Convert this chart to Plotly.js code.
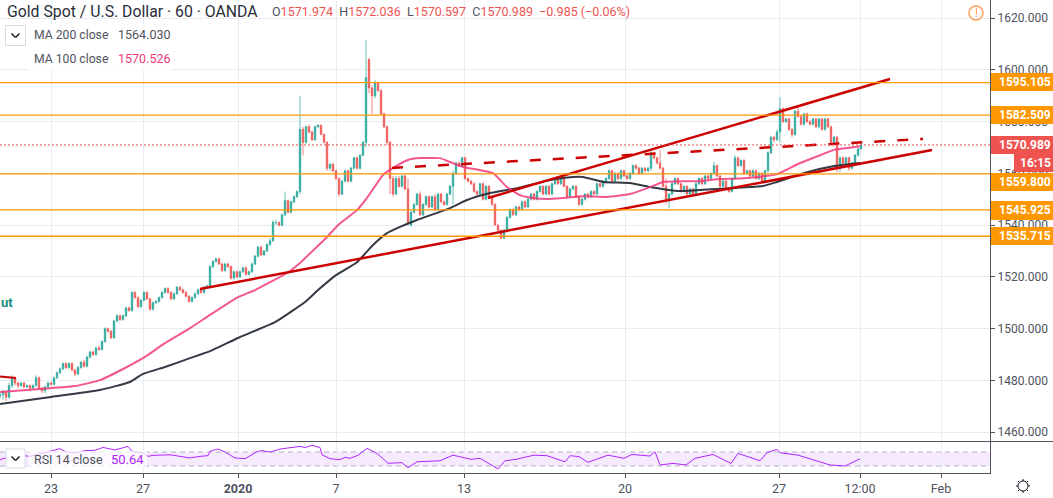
<!DOCTYPE html>
<html><head><meta charset="utf-8">
<script src="https://cdn.plot.ly/plotly-3.0.1.min.js"></script>
<style>html,body{margin:0;padding:0;background:#fff;overflow:hidden}#c{width:1053px;height:498px}</style></head>
<body><div id="c"></div>
<script>
const candleStart = 0, candleStep = 3;
const open = [
1474,1474.5,1475.5,1473.5,1478,1481,1479,1478,1479,1477.5,
1478,1477,1478,1481,1477,1476,1477.5,1479,1478.5,1481,
1483,1484.5,1486.5,1485,1486.5,1484,1482.5,1485,1487,1485.5,
1489,1491,1490,1492.5,1492,1495,1500,1499,1496.5,1503,
1505,1503.5,1505,1508,1507,1514,1512,1508.5,1511,1514,
1511.5,1507.5,1510,1510.5,1512,1514,1515.5,1514,1511.5,1513.5,
1516,1515,1514,1512.5,1510.5,1512,1513.5,1515,1514,1516,
1516.5,1524,1526,1527,1525,1522.5,1525,1524,1519.5,1522,
1520,1522,1523.5,1521,1522,1525,1528,1531.5,1528.5,1530,
1532.5,1534,1541,1541,1540,1544,1549.5,1545,1549,1551,
1553,1577,1572,1578,1576,1573,1578,1578.5,1575,1572,
1562,1563.5,1561,1558,1552,1557,1561,1557,1562,1566,
1562,1567,1572,1604,1593,1590,1595,1592,1583,1578,
1572,1558,1552,1558,1555,1559,1554,1540,1545,1548,
1552,1544,1548,1551,1547,1551,1546,1552,1549,1548,
1552,1555,1560,1564,1563,1566,1558,1557,1556,1553,
1552,1556,1550,1555,1551,1548,1540,1538,1535,1538,
1543,1546,1544,1547,1546,1549,1547,1550,1552,1550,
1553,1555,1552,1555,1552,1556,1558,1556,1558,1555,
1551,1554,1555,1551,1548,1550,1552,1551,1553,1552,
1556,1555,1557,1558,1561,1557,1560,1558,1561,1559,
1558,1560,1563,1562,1560,1562,1561,1562,1568,1566,
1564,1562,1555,1550,1552,1556,1558,1556,1553,1555,
1552,1554,1552,1556,1558,1556,1559,1558,1560,1563,
1559,1555,1557,1554,1553,1558,1566,1563,1565,1560,
1561,1559,1561,1558,1560,1557,1561,1568,1574,1573,
1576,1585,1580,1581,1577,1575,1584,1582,1579,1583,
1580,1579,1581,1578,1581,1577,1581,1578,1572,1574,
1562,1566,1564,1566,1562,1564,1567,1569.5];
const high = [
1475.5,1476.5,1476,1479,1482,1481.5,1479.5,1479.5,1479.5,1478.5,
1478.5,1478.5,1482,1481.5,1477.5,1478,1479.5,1479.5,1481.5,1483.5,
1485,1487,1487,1487,1487,1484.5,1485.5,1487.5,1488,1489.5,
1491.5,1491.5,1493,1493.5,1495.5,1500.5,1500.5,1499.5,1503.5,1505.5,
1505.5,1505.5,1508.5,1508.5,1514.5,1514.5,1512.5,1511.5,1514.5,1514.5,
1512,1510.5,1511,1512.5,1514.5,1516,1516,1514.5,1514,1516.5,
1516.5,1515.5,1514.5,1513,1512.5,1514,1515.5,1515.5,1516.5,1517,
1524.5,1526.5,1527.5,1527.5,1525.5,1525.5,1525.5,1524.5,1522.5,1522.5,
1522.5,1524,1524,1522.5,1525.5,1528.5,1532,1532,1530.5,1533,
1535,1542,1542,1541.5,1544.5,1553,1550,1549.5,1551.5,1553.5,
1590,1578,1578.5,1579,1576.5,1578.5,1579,1579,1575.5,1572.5,
1564,1564,1561.5,1558.5,1557.5,1561.5,1561.5,1562.5,1566.5,1566.5,
1567.5,1572.5,1611.5,1604.5,1594,1596,1595.5,1592.5,1583.5,1578.5,
1572.5,1559,1559,1559,1559.5,1560,1558,1545.5,1548.5,1552.5,
1553,1548.5,1551.5,1551.5,1551.5,1552,1552.5,1552.5,1549.5,1552.5,
1555.5,1561,1564.5,1564.5,1566.5,1566.5,1558.5,1557.5,1556.5,1553.5,
1556.5,1556.5,1555.5,1555.5,1551.5,1548.5,1540.5,1538.5,1538.5,1543.5,
1546.5,1546.5,1547.5,1547.5,1549.5,1549.5,1550.5,1552.5,1552.5,1553.5,
1555.5,1555.5,1555.5,1555.5,1556.5,1558.5,1558.5,1558.5,1558.5,1555.5,
1554.5,1555.5,1555.5,1551.5,1550.5,1552.5,1552.5,1553.5,1553.5,1556.5,
1556.5,1557.5,1558.5,1561.5,1561.5,1560.5,1560.5,1561.5,1561.5,1559.5,
1560.5,1563.5,1563.5,1562.5,1562.5,1562.5,1562.5,1568.5,1568.5,1566.5,
1569,1562.5,1558,1552.5,1556.5,1558.5,1558.5,1556.5,1555.5,1555.5,
1554.5,1554.5,1556.5,1558.5,1558.5,1559.5,1559.5,1560.5,1564.5,1563.5,
1559.5,1557.5,1557.5,1554.5,1558.5,1567,1566.5,1565.5,1565.5,1561.5,
1561.5,1561.5,1561.5,1560.5,1560.5,1561.5,1568.5,1574.5,1574.5,1577,
1589.5,1585.5,1581.5,1581.5,1577.5,1584.5,1586,1582.5,1583.5,1583.5,
1580.5,1581.5,1581.5,1581.5,1581.5,1581.5,1581.5,1578.5,1574.5,1574.5,
1566.5,1566.5,1566.5,1566.5,1564.5,1567.5,1570,1572];
const low = [
1473,1472.5,1472,1473,1477,1478,1477,1477.5,1477,1477,
1476,1476.5,1477.5,1476.5,1475,1475,1477,1478,1478,1480.5,
1482.5,1484,1484.5,1484.5,1483.5,1481.5,1482,1484.5,1485,1485,
1488.5,1489.5,1489.5,1491.5,1491.5,1494.5,1498.5,1496,1496,1502.5,
1503,1503,1504.5,1506.5,1506.5,1511.5,1508,1508,1510.5,1511,
1507,1507,1509.5,1510,1511.5,1513.5,1513.5,1511,1511,1513,
1514.5,1513.5,1512,1510,1510,1511.5,1513,1513.5,1513.5,1515.5,
1516,1523.5,1525.5,1524.5,1522,1522,1523.5,1519,1519,1519.5,
1519.5,1521.5,1520.5,1520.5,1521.5,1524.5,1527.5,1528,1528,1529.5,
1532,1533.5,1540,1539.5,1539.5,1543.5,1544.5,1544.5,1548.5,1550.5,
1552,1567,1571.5,1575.5,1572.5,1572.5,1577.5,1575,1571.5,1561,
1561,1560.5,1557.5,1551,1551.5,1556.5,1556.5,1556.5,1561.5,1561.5,
1561.5,1566.5,1570,1591,1583,1589,1591.5,1582.5,1577.5,1571,
1552,1551,1551.5,1554.5,1554.5,1553.5,1540,1539.5,1544.5,1547.5,
1543.5,1543.5,1547.5,1546.5,1546.5,1545.5,1545.5,1548.5,1547.5,1547.5,
1551.5,1548,1559.5,1562.5,1562.5,1557.5,1556.5,1555.5,1552.5,1551.5,
1551.5,1549.5,1549.5,1550.5,1547.5,1540,1537,1534.5,1534.5,1537.5,
1542.5,1543.5,1543.5,1545.5,1545.5,1546.5,1546.5,1549.5,1549.5,1549.5,
1552.5,1551.5,1551.5,1551.5,1551.5,1555.5,1555.5,1555.5,1554.5,1550.5,
1550.5,1553.5,1550.5,1547.5,1547.5,1549.5,1550.5,1550.5,1551.5,1551.5,
1554.5,1554.5,1556.5,1557.5,1556.5,1556.5,1557.5,1557.5,1558.5,1557.5,
1557.5,1559.5,1561.5,1559.5,1559.5,1560.5,1560.5,1561,1565.5,1563.5,
1561.5,1554.5,1548,1546.5,1551.5,1555.5,1555.5,1552.5,1552.5,1551.5,
1551.5,1551.5,1551.5,1555.5,1555.5,1555.5,1557.5,1557.5,1559.5,1558.5,
1554.5,1554.5,1553.5,1552.5,1552.5,1557.5,1562.5,1562.5,1559.5,1559.5,
1558.5,1558.5,1557.5,1557.5,1556.5,1556.5,1560.5,1567.5,1572,1572.5,
1572,1579.5,1579.5,1576.5,1574,1574.5,1581.5,1578.5,1578.5,1579.5,
1578.5,1578.5,1577.5,1577.5,1576.5,1576.5,1577.5,1571.5,1571.5,1560.5,
1560.5,1563.5,1563.5,1561,1561.5,1563.5,1566.5,1569];
const close = [
1474.5,1475.5,1473.5,1478,1481,1479,1478,1479,1477.5,1478,
1477,1478,1481,1477,1476,1477.5,1479,1478.5,1481,1483,
1484.5,1486.5,1485,1486.5,1484,1482.5,1485,1487,1485.5,1489,
1491,1490,1492.5,1492,1495,1500,1499,1496.5,1503,1505,
1503.5,1505,1508,1507,1514,1512,1508.5,1511,1514,1511.5,
1507.5,1510,1510.5,1512,1514,1515.5,1514,1511.5,1513.5,1516,
1515,1514,1512.5,1510.5,1512,1513.5,1515,1514,1516,1516.5,
1524,1526,1527,1525,1522.5,1525,1524,1519.5,1522,1520,
1522,1523.5,1521,1522,1525,1528,1531.5,1528.5,1530,1532.5,
1534,1541,1541,1540,1544,1549.5,1545,1549,1551,1553,
1577,1572,1578,1576,1573,1578,1578.5,1575,1572,1562,
1563.5,1561,1558,1552,1557,1561,1557,1562,1566,1562,
1567,1572,1597,1593,1590,1595,1592,1583,1578,1572,
1558,1552,1558,1555,1559,1554,1541,1545,1548,1552,
1544,1548,1551,1547,1551,1546,1552,1549,1548,1552,
1555,1560,1564,1563,1566,1558,1557,1556,1553,1552,
1556,1550,1555,1551,1548,1540,1538,1535,1538,1543,
1546,1544,1547,1546,1549,1547,1550,1552,1550,1553,
1555,1552,1555,1552,1556,1558,1556,1558,1555,1551,
1554,1555,1551,1548,1550,1552,1551,1553,1552,1556,
1555,1557,1558,1561,1557,1560,1558,1561,1559,1558,
1560,1563,1562,1560,1562,1561,1562,1568,1566,1564,
1562,1555,1550,1552,1556,1558,1556,1553,1555,1552,
1554,1552,1556,1558,1556,1559,1558,1560,1563,1559,
1555,1557,1554,1553,1558,1566,1563,1565,1560,1561,
1559,1561,1558,1560,1557,1561,1568,1574,1573,1576,
1585,1580,1581,1577,1575,1584,1582,1579,1583,1580,
1579,1581,1578,1581,1577,1581,1578,1572,1574,1562,
1566,1564,1566,1562,1564,1567,1569.5,1571];

const ma100X = [0,50,75,100,125,143,165,190,210,238,255,287,300,327,338,357,367,383,393,408,420,440,450,463,493,507,520,533,547,563,583,607,630,650,663,683,700,720,740,760,777,800,820,833,860];
const ma100V = [1475.5,1477,1477.8,1480.1,1484.8,1488.6,1494.4,1500.2,1505.3,1512.2,1514.9,1521.5,1525.4,1535.4,1540,1545.8,1550.5,1559.4,1562.1,1565.2,1565.9,1565.9,1564.4,1562.5,1560.1,1554.7,1551.6,1550.5,1550.1,1550.5,1551.2,1550.9,1552,1554.7,1556.7,1557,1557,1557.8,1558,1558.7,1559.7,1564,1567,1569,1570.5];
const ma200X = [0,51,100,130,143,165,190,210,238,275,305,318,336,357,373,387,400,417,450,467,490,517,550,573,583,603,630,650,677,700,763,777,807,833,860];
const ma200V = [1470.9,1473.6,1476.3,1479.4,1482.5,1485.2,1488.6,1491.3,1496.4,1502.5,1510.3,1514.9,1520.7,1525.7,1532.3,1536.9,1539.3,1542,1546.6,1549.7,1552.4,1554.3,1557.4,1558.6,1558.6,1556.7,1556.3,1554.7,1553.2,1553.6,1555.1,1556.7,1560.5,1562.8,1564];

const rsiX = [0,5,15,30,50,60,65,75,85,95,103,115,128,132,143,148,153,160,170,180,190,200,208,210,218,225,235,245,258,262,270,280,290,300,305,312,320,322,330,340,345,350,358,367,377,388,402,408,417,440,453,471,480,498,505,516,534,547,565,570,579,588,608,624,632,650,655,660,673,686,695,713,731,738,760,767,777,780,798,830,845,860];
const rsiV = [48,53,62,57.6,72,79.5,72,67,74,75,83,76,86,72,67,57.6,60.5,60.5,62,57.6,53,57.6,59.5,72,78.6,70,53,51,72,74,70,78.6,83,86,83,89,83,62,51,48,55,52,60.5,80.5,66,38,39.5,25,42,45,61,49,52,21.5,45,49,61,59.5,42,59.5,57,40.5,61,52,63,58.5,71,33,37.5,33,52,63,37.5,66,45,68,77.5,68,61,33,30,50.64];

const levels = [1595.105,1582.509,1559.8,1545.925,1535.715];
const levelX = [0,990];
const lastPrice = 1570.989;
const supportX = [200,932], supportV = [1515.3,1569];
const upperX = [488,890], upperV = [1550.5,1596.5];
const dashX = [392,923], dashV = [1562.1,1573.3];
const oldX = [0,16], oldV = [1481.5,1480.9];

const yTicks = [1460,1480,1500,1520,1540,1560,1580,1600,1620];
const xTickVals = [51,143,238,336,464,625,779,860,941];
const xTickText = ['23','27','<b>2020</b>','7','13','20','27','12:00','Feb'];

const PW = 990, PH = 473;
const GRAY = '#50535e', RED = '#cc0000', ORANGE = '#ff9800', FONT = 'Roboto, sans-serif';
const px = x => x / PW, py = y => 1 - y / PH;

const candleX = close.map((_, i) => candleStart + i * candleStep);
const traces = [
  {type:'candlestick', x:candleX, open, high, low, close, xaxis:'x', yaxis:'y', whiskerwidth:0,
   increasing:{line:{color:'#26a69a',width:0.7},fillcolor:'#26a69a'},
   decreasing:{line:{color:'#ef5350',width:0.7},fillcolor:'#ef5350'}, hoverinfo:'skip'},
  {type:'scatter', mode:'lines', x:ma200X, y:ma200V, line:{color:'#2a2e39',width:2,shape:'spline',smoothing:0.4}, opacity:0.95},
  {type:'scatter', mode:'lines', x:ma100X, y:ma100V, line:{color:'#f23a7b',width:2,shape:'spline',smoothing:0.4}, opacity:0.85},
  {type:'scatter', mode:'lines', x:supportX, y:supportV, line:{color:RED,width:2.5}},
  {type:'scatter', mode:'lines', x:upperX, y:upperV, line:{color:RED,width:2.5}},
  {type:'scatter', mode:'lines', x:dashX, y:dashV, line:{color:RED,width:2.5,dash:'11px,12px'}},
  {type:'scatter', mode:'lines', x:oldX, y:oldV, line:{color:RED,width:2}},
  {type:'scatter', mode:'lines', x:levelX, y:[lastPrice,lastPrice], line:{color:'#ef5350',width:1,dash:'2px,2px'}},
  ...levels.map(l => ({type:'scatter', mode:'lines', x:levelX, y:[l,l], line:{color:ORANGE,width:1.3}})),
  {type:'scatter', mode:'lines', x:rsiX, y:rsiV, xaxis:'x', yaxis:'y2', line:{color:'#b026ff',width:1}},
];

const ann = (text, x, y, o={}) => Object.assign({
  text, xref:'paper', yref:'paper', x:px(x), y:py(y), xanchor:'left', yanchor:'middle',
  showarrow:false, align:'left', borderpad:0, font:{family:FONT,size:12.2,color:GRAY}
}, o);

const sp = (c,t) => `<span style="color:${c}">${t}</span>`;
const R = '#ef5350';
const annotations = [
  ann('Gold Spot / U.S. Dollar · 60 · OANDA', 6, 11, {font:{family:FONT,size:15.8,color:'#2a2e39'}}),
  ann(`O${sp(R,'1571.974')}  H${sp(R,'1572.036')}  L${sp(R,'1570.597')}  C${sp(R,'1570.989')}  ${sp(R,'−0.985 (−0.06%)')}`, 271, 12, {font:{family:FONT,size:12.5,color:GRAY}}),
  ann('MA 200 close', 33, 35),
  ann('1564.030', 117, 35, {font:{family:FONT,size:12.5,color:GRAY}}),
  ann('MA 100 close', 33, 59),
  ann(sp('#f23a7b','1570.526'), 117, 59, {font:{family:FONT,size:12.5,color:GRAY}}),
  ann('<b>ut</b>', 0, 302, {font:{family:FONT,size:13,color:'#138a7a'}}),
  ann('RSI 14 close', 33, 459, {font:{family:FONT,size:12.5,color:GRAY}}),
  ann(sp('#b026ff','50.64'), 110, 459, {font:{family:FONT,size:13,color:'#b026ff'}}),
  ann('!', 976, 13, {xanchor:'center', font:{family:FONT,size:12,color:'#ff9e5c'}}),
  ...[[82,'1595.105'],[115,'1582.509'],[182,'1559.800'],[210,'1545.925'],[236,'1535.715'],[145,'1570.989']].map(([y,t]) =>
    ann('<b>'+t+'</b>', 998, y, {font:{family:FONT,size:12,color:'#fff'}})),
  ann('<b>16:15</b>', 1019, 163, {font:{family:FONT,size:12,color:'#fff'}}),
];

const box = (x0,y0,x1,y1,fill) => ({type:'rect',xref:'paper',yref:'paper',x0:px(x0),x1:px(x1),y0:py(y0),y1:py(y1),fillcolor:fill,line:{width:0},layer:'above'});
const outline = (x0,y0,x1,y1,color) => ({type:'rect',xref:'paper',yref:'paper',x0:px(x0),x1:px(x1),y0:py(y0),y1:py(y1),fillcolor:'#fff',line:{width:1,color},layer:'above'});
const seg = (x0,y0,x1,y1,color,w=1) => ({type:'line',xref:'paper',yref:'paper',x0:px(x0),x1:px(x1),y0:py(y0),y1:py(y1),line:{width:w,color},layer:'above'});
const chevron = (cx,cy) => [seg(cx-4,cy-2,cx,cy+2,'#131722',1.4), seg(cx,cy+2,cx+4,cy-2,'#131722',1.4)];
const circle = (cx,cy,r,color,w) => ({type:'circle',xref:'paper',yref:'paper',x0:px(cx-r),x1:px(cx+r),y0:py(cy-r),y1:py(cy+r),line:{width:w,color},layer:'above'});

const shapes = [
  {type:'rect',xref:'paper',yref:'y2',x0:0,x1:1,y0:30,y1:70,fillcolor:'rgba(170,60,255,0.11)',line:{width:0},layer:'below'},
  {type:'line',xref:'paper',yref:'y2',x0:0,x1:1,y0:70,y1:70,line:{width:1,color:'#b9b0c2',dash:'5px,4px'},layer:'below'},
  {type:'line',xref:'paper',yref:'y2',x0:0,x1:1,y0:30,y1:30,line:{width:1,color:'#b9b0c2',dash:'5px,4px'},layer:'below'},
  box(28,24,172,70,'rgba(255,255,255,0.82)'),
  box(28,451,147,467,'rgba(255,255,255,0.72)'),
  seg(0,441.5,1053,441.5,GRAY,1.2),
  box(991,73,1053,91,ORANGE), box(991,106,1053,124,ORANGE),
  box(991,136,1053,154,'#ef5350'), box(1014,154,1053,172,'#ef5350'),
  box(991,173,1053,191,ORANGE), box(991,201,1053,220,ORANGE), box(991,227,1053,245,ORANGE),
  outline(5.5,25.5,25.5,45.5,'#d6dce5'), ...chevron(15.5,35.5),
  outline(6,449,25,468,'#d6dce5'), ...chevron(15.5,458.5),
  circle(976,13,7,'#ff9e5c',1.5),
  circle(1023,486,5,'#131722',1),
  seg(1023,479,1023,481,'#131722'), seg(1023,491,1023,493,'#131722'),
  seg(1016,486,1018,486,'#131722'), seg(1028,486,1030,486,'#131722'),
  seg(1018,481,1019.5,482.5,'#131722'), seg(1028,481,1026.5,482.5,'#131722'),
  seg(1018,491,1019.5,489.5,'#131722'), seg(1028,491,1026.5,489.5,'#131722'),
];

const layout = {
  width:1053, height:498, margin:{l:0,r:63,t:0,b:25,pad:0},
  paper_bgcolor:'#fff', plot_bgcolor:'#fff', showlegend:false, hovermode:false,
  xaxis:{domain:[0,1],range:[0,PW],anchor:'y2',tickmode:'array',tickvals:xTickVals,ticktext:xTickText,
    showgrid:true,gridcolor:'#e6edf3',gridwidth:1,zeroline:false,showline:true,linecolor:GRAY,linewidth:1.2,
    ticks:'outside',ticklen:4,tickcolor:GRAY,tickfont:{family:FONT,size:12.5,color:GRAY},
    rangeslider:{visible:false},fixedrange:true},
  yaxis:{domain:[0.0677,1],range:[1456.6,1627],side:'right',anchor:'x',tickmode:'array',tickvals:yTicks,
    ticktext:yTicks.map(v=>v.toFixed(3)),showgrid:true,gridcolor:'#e6edf3',gridwidth:1,zeroline:false,
    showline:true,linecolor:GRAY,linewidth:1.2,ticks:'outside',ticklen:4,tickcolor:GRAY,
    tickfont:{family:FONT,size:12,color:GRAY},fixedrange:true},
  yaxis2:{domain:[0,0.0655],range:[10,98.6],side:'right',anchor:'x',showticklabels:false,showgrid:false,zeroline:false,
    showline:true,linecolor:GRAY,linewidth:1.2,ticks:'',fixedrange:true},
  shapes, annotations
};
Plotly.newPlot('c', traces, layout, {displayModeBar:false, staticPlot:true});
</script></body></html>
